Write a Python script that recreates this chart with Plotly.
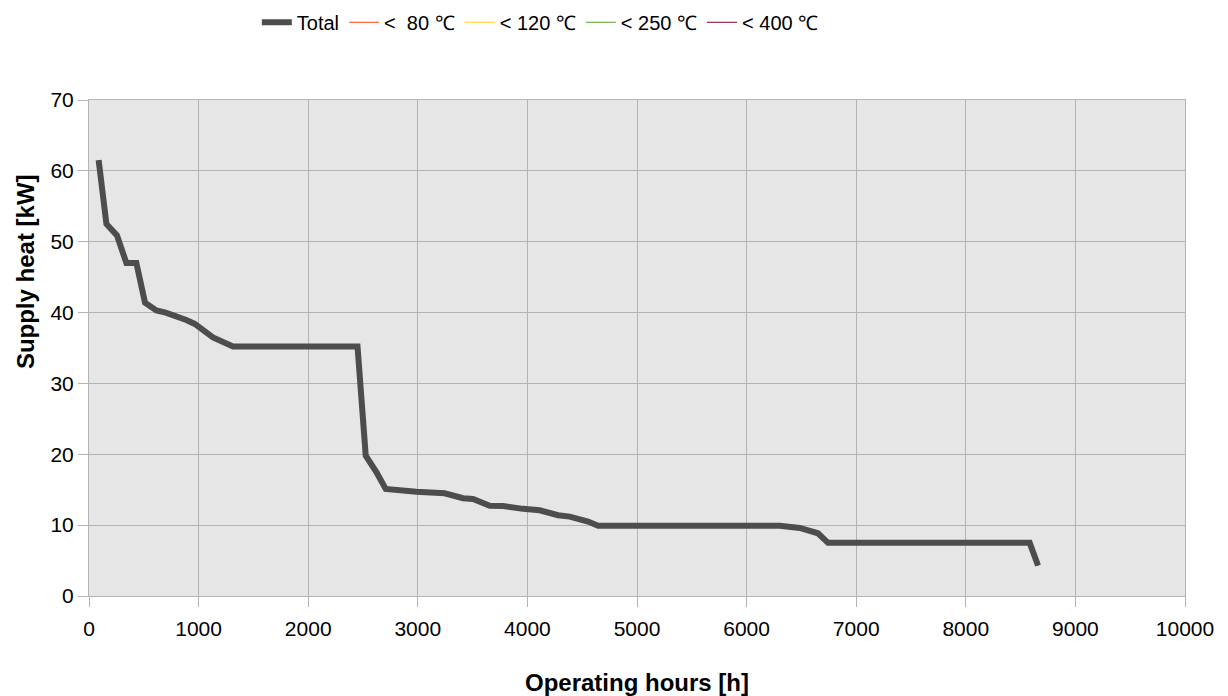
import plotly.graph_objects as go

# Annual load duration curve of supply heat
hours = [88, 159, 255, 341, 432, 511, 615, 700, 888, 965, 1131, 1314, 2450,
         2525, 2622, 2707, 2987, 3170, 3245, 3413, 3504, 3656, 3778, 3960,
         4112, 4280, 4386, 4553, 4645, 6302, 6485, 6651, 6743, 8583, 8659]
total_kw = [61.5, 52.5, 50.9, 47.0, 47.0, 41.4, 40.3, 40.0, 38.95, 38.4, 36.5,
            35.2, 35.2, 19.8, 17.5, 15.1, 14.7, 14.7, 14.5, 13.8, 13.7, 12.75,
            12.7, 12.3, 12.1, 11.4, 11.2, 10.5, 9.9, 9.9, 9.6, 8.85, 7.5, 7.5, 4.3]

# Temperature-level series (all supply lies in the lowest band)
below_80_kw = total_kw
below_120_kw = total_kw
below_250_kw = total_kw
below_400_kw = total_kw

band_names = ["<  80 \u2103", "< 120 \u2103", "< 250 \u2103", "< 400 \u2103"]
band_colors = ["#ff420e", "#ffd320", "#579d1c", "#7e0021"]
band_values = [below_80_kw, below_120_kw, below_250_kw, below_400_kw]

FONT = "Liberation Sans, Arial, sans-serif"
GRID = "#b3b3b3"

fig = go.Figure()

for i, (name, color, vals) in enumerate(zip(band_names, band_colors, band_values)):
    fig.add_trace(go.Scatter(
        x=hours, y=vals, mode="lines", name=name,
        line=dict(color=color, width=1), legendrank=2 + i,
    ))

fig.add_trace(go.Scatter(
    x=hours, y=total_kw, mode="lines", name="Total",
    line=dict(color="#4d4d4d", width=6), legendrank=1,
))

fig.update_layout(
    width=1228, height=696,
    margin=dict(l=89, r=43, t=100, b=100),
    paper_bgcolor="white",
    plot_bgcolor="#e6e6e6",
    font=dict(family=FONT, size=20, color="#000000"),
    showlegend=True,
    legend=dict(
        orientation="h",
        xref="container", yref="container",
        x=0.44, xanchor="center",
        y=0.968, yanchor="middle",
        font=dict(family=FONT, size=20),
        bgcolor="rgba(0,0,0,0)",
        itemwidth=30,
        tracegroupgap=0,
    ),
    annotations=[dict(
        text="<b>Supply heat [kW]</b>",
        xref="paper", yref="paper",
        x=-0.0584, y=0.655,
        xanchor="center", yanchor="middle",
        textangle=-90, showarrow=False,
        font=dict(family=FONT, size=24, color="#000000"),
    )],
)

fig.update_xaxes(
    range=[0, 10000], dtick=1000, tick0=0, tickformat="d",
    showgrid=True, gridcolor=GRID, gridwidth=1,
    showline=True, linecolor=GRID, linewidth=1, mirror=True,
    ticks="outside", ticklen=10, tickcolor=GRID, tickwidth=1,
    ticklabelstandoff=4,
    zeroline=False, automargin=False,
    tickfont=dict(family=FONT, size=21),
    title=dict(text="<b>Operating hours [h]</b>",
               font=dict(family=FONT, size=24), standoff=36),
)

fig.update_yaxes(
    range=[0, 70], dtick=10, tick0=0,
    showgrid=True, gridcolor=GRID, gridwidth=1,
    showline=True, linecolor=GRID, linewidth=1, mirror=True,
    ticks="outside", ticklen=10, tickcolor=GRID, tickwidth=1,
    zeroline=False, automargin=False,
    tickfont=dict(family=FONT, size=21),
)

fig.write_html("out.html")
